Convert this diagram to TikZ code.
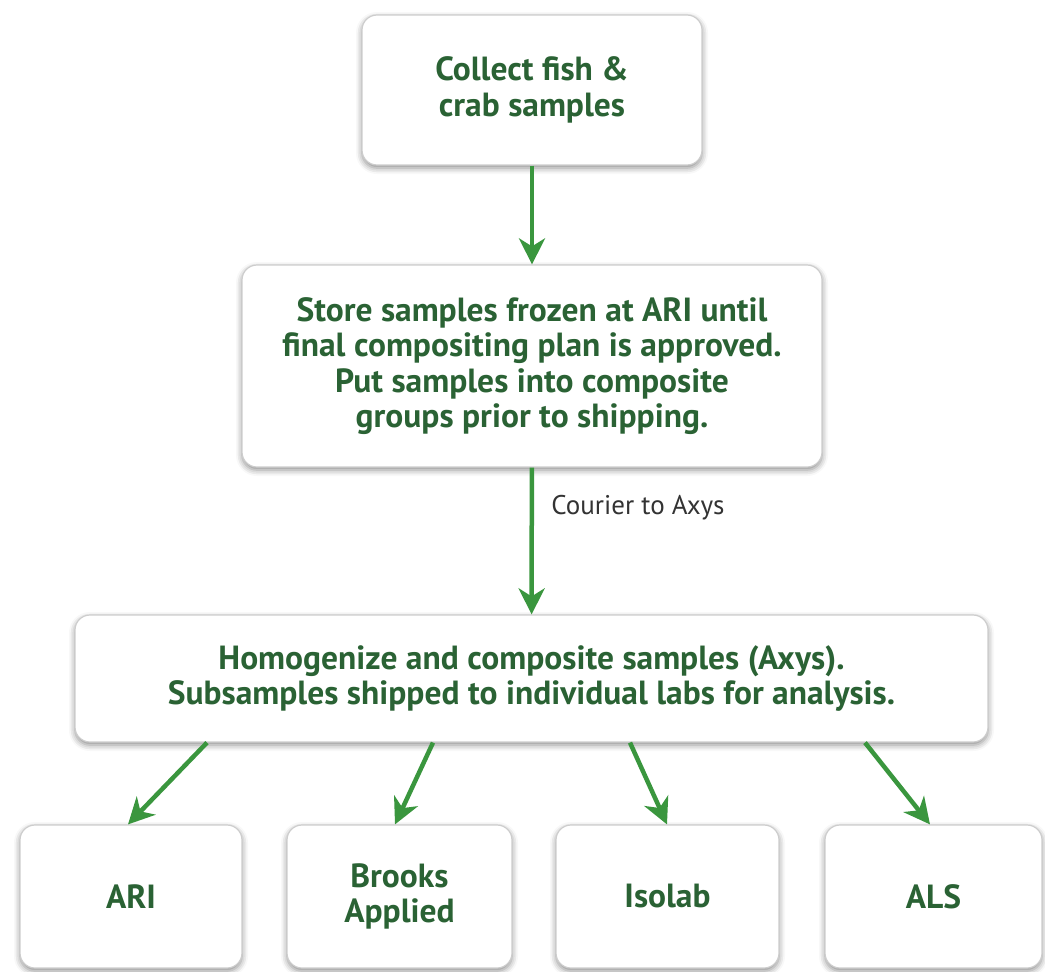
\documentclass[tikz,border=0pt]{standalone}
\usepackage{xcolor}
\usepackage{fontspec}
\setmainfont{PT Sans}
\usepackage{tikz}
\usetikzlibrary{arrows.meta,shadows.blur}

\definecolor{txtgreen}{RGB}{42,98,52}
\definecolor{arrgreen}{RGB}{58,150,62}
\definecolor{edgegray}{RGB}{205,205,205}

\tikzset{
	box/.style={draw=edgegray, line width=1.2pt, fill=white, rounded corners=15pt,
		align=center, text=txtgreen, font=\fontsize{33.5}{35.5}\selectfont\bfseries,
		blur shadow={shadow xshift=0pt, shadow yshift=-3pt, shadow blur radius=6pt, shadow opacity=45},
		inner sep=0pt},
	flow/.style={draw=arrgreen, line width=4.5pt, -{Stealth[length=26pt, width=26pt, inset=8pt]}}
}

\begin{document}
\begin{tikzpicture}[x=1pt,y=-1pt]
		\useasboundingbox (0,0) rectangle (1045,972);
		
		\node[box, minimum width=340pt, minimum height=150pt] (collect) at (532,90)
			{Collect fish \&\\crab samples};
		\node[box, minimum width=580pt, minimum height=202pt] (store) at (532,366)
			{Store samples frozen at ARI until\\final compositing plan is approved.\\Put samples into composite\\groups prior to shipping.};
		\node[box, minimum width=913pt, minimum height=127pt] (homog) at (531.5,678.5)
			{Homogenize and composite samples (Axys).\\Subsamples shipped to individual labs for analysis.};
		
		% the four labs
		\node[box, minimum width=222pt, minimum height=143pt] (ari) at (131,896.5) {ARI};
		\node[box, minimum width=225pt, minimum height=143pt] (brooks) at (399.5,896.5) {Brooks\\Applied};
		\node[box, minimum width=223pt, minimum height=143pt] (isolab) at (667.5,896.5) {Isolab};
		\node[box, minimum width=217pt, minimum height=143pt] (als) at (933.5,896.5) {ALS};
		
		\draw[flow] (collect) -- (store);
		\draw[flow] (store) -- (homog)
			node[pos=0.27, right=14pt, text=black!80, font=\fontsize{27}{30}\selectfont] {Courier to Axys};
		
		\draw[flow] ([xshift=-324.5pt]homog.south) -- ([xshift=-3pt]ari.north);
		\draw[flow] ([xshift=-98.5pt]homog.south) -- ([xshift=-4.5pt]brooks.north);
		\draw[flow] ([xshift=98.5pt]homog.south) -- ([xshift=-0.5pt]isolab.north);
		\draw[flow] ([xshift=333.5pt]homog.south) -- ([xshift=-3.5pt]als.north);
	\end{tikzpicture}
\end{document}
